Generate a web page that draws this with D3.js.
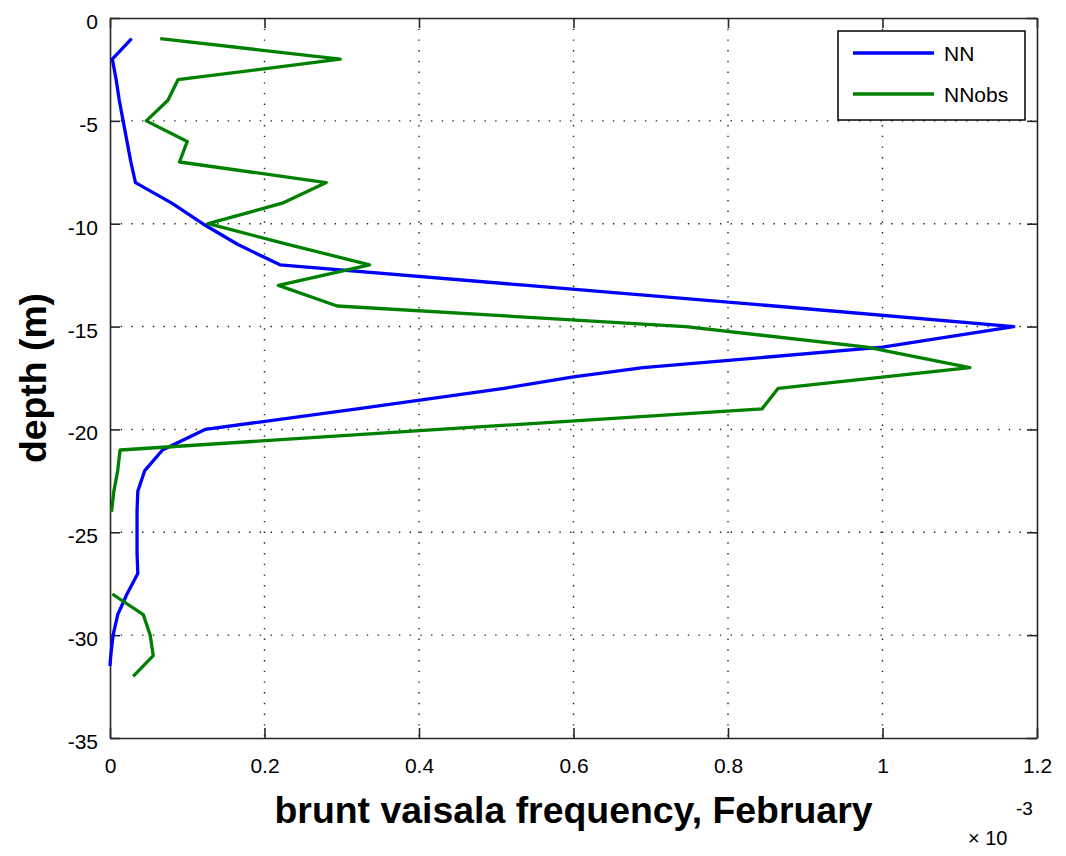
<!DOCTYPE html>
<html>
<head>
<meta charset="utf-8">
<script src="https://cdn.jsdelivr.net/npm/d3@7"></script>
<style>
  html, body { margin: 0; padding: 0; background: #fff; }
  svg { display: block; }
  text { font-family: "Liberation Sans", Arial, Helvetica, sans-serif; fill: #000; }
</style>
</head>
<body>
<svg id="chart" width="1066" height="856"></svg>
<script>
// Brunt-Vaisala frequency profiles (units of 1e-3), February
const nnDepth = [-1, -2, -3, -4, -5, -6, -7, -8, -9, -10, -11, -12, -13, -14, -15, -16, -17,
                 -17.45, -18, -19, -20, -21, -22, -23, -24, -25, -26, -27, -28, -29, -30, -31, -31.5];
const nnValue = [0.028, 0.003, 0.008, 0.012, 0.017, 0.022, 0.027, 0.033, 0.08, 0.12, 0.165, 0.22,
                 0.54, 0.86, 1.17, 1.0, 0.69, 0.6, 0.51, 0.32, 0.123, 0.068, 0.045, 0.036, 0.035,
                 0.035, 0.035, 0.036, 0.022, 0.01, 0.004, 0.001, 0.0];

const obsDepth = [-1, -2, -3, -4, -5, -6, -7, -8, -9, -10, -11, -12, -13, -14, -15, -16, -17,
                  -18, -19, -20, -21, -22, -23, -24, -25, -26, -27, -28, -29, -30, -31, -32];
const obsValue = [0.065, 0.298, 0.088, 0.075, 0.047, 0.1, 0.09, 0.28, 0.223, 0.127, 0.23, 0.336,
                  0.218, 0.294, 0.745, 0.98, 1.113, 0.865, 0.844, 0.426, 0.013, 0.01, 0.005, 0.002,
                  null, null, null, 0.003, 0.043, 0.052, 0.056, 0.03];

const xTicks = [0, 0.2, 0.4, 0.6, 0.8, 1, 1.2];
const yTicks = [0, -5, -10, -15, -20, -25, -30, -35];
const seriesNames = ["NN", "NNobs"];
const seriesColors = ["#0000ff", "#008000"];

const svg = d3.select("#chart");
const plotLeft = 110, plotRight = 1037, plotTop = 18, plotBottom = 738;

const x = d3.scaleLinear().domain([0, 1.2]).range([plotLeft, plotRight]);
const y = d3.scaleLinear().domain([-35, 0]).range([plotBottom, plotTop]);

// plain hyphen-minus tick labels
const plainFormat = d => String(d);

// dotted grid
const grid = svg.append("g").attr("stroke", "#222").attr("stroke-width", 1.4)
  .attr("stroke-dasharray", "1.4,9.3").attr("fill", "none");
xTicks.filter(t => t > 0 && t < 1.2).forEach(t => {
  grid.append("line").attr("x1", x(t)).attr("x2", x(t)).attr("y1", plotTop).attr("y2", plotBottom);
});
yTicks.filter(t => t < 0 && t > -35).forEach(t => {
  grid.append("line").attr("x1", plotLeft).attr("x2", plotRight).attr("y1", y(t)).attr("y2", y(t));
});

// axes with inward ticks on all four sides
const tickLen = 10;
const axisColor = "#262626";
const gx = svg.append("g").attr("transform", `translate(0,${plotBottom})`)
  .call(d3.axisBottom(x).tickValues(xTicks).tickSizeInner(-tickLen).tickSizeOuter(0)
    .tickPadding(20).tickFormat(plainFormat));
const gxt = svg.append("g").attr("transform", `translate(0,${plotTop})`)
  .call(d3.axisTop(x).tickValues(xTicks).tickSizeInner(-tickLen).tickSizeOuter(0).tickFormat(""));
const gy = svg.append("g").attr("transform", `translate(${plotLeft},0)`)
  .call(d3.axisLeft(y).tickValues(yTicks).tickSizeInner(-tickLen).tickSizeOuter(0)
    .tickPadding(12).tickFormat(plainFormat));
const gyr = svg.append("g").attr("transform", `translate(${plotRight},0)`)
  .call(d3.axisRight(y).tickValues(yTicks).tickSizeInner(-tickLen).tickSizeOuter(0).tickFormat(""));

[gx, gxt, gy, gyr].forEach(g => {
  g.selectAll("path").attr("stroke", axisColor).attr("stroke-width", 1.6);
  g.selectAll("line").attr("stroke", axisColor).attr("stroke-width", 1.6);
  g.selectAll("text").attr("font-size", 21).attr("font-family", null).attr("fill", "#000");
});
gx.selectAll("text").attr("dy", "0.71em");
gy.selectAll("text").attr("dy", "0.5em");

// series lines
const line = d3.line()
  .defined(d => d.v !== null)
  .x(d => x(d.v))
  .y(d => y(d.d));

const nnData = nnDepth.map((d, i) => ({ d, v: nnValue[i] }));
const obsData = obsDepth.map((d, i) => ({ d, v: obsValue[i] }));

svg.append("path").datum(nnData).attr("d", line)
  .attr("fill", "none").attr("stroke", seriesColors[0]).attr("stroke-width", 3.3)
  .attr("stroke-linejoin", "round");
svg.append("path").datum(obsData).attr("d", line)
  .attr("fill", "none").attr("stroke", seriesColors[1]).attr("stroke-width", 3.3)
  .attr("stroke-linejoin", "round");

// legend
const lg = svg.append("g");
lg.append("rect").attr("x", 838).attr("y", 31).attr("width", 187).attr("height", 89)
  .attr("fill", "#fff").attr("stroke", "#000").attr("stroke-width", 1.5);
seriesNames.forEach((name, i) => {
  const yy = 53 + i * 41;
  lg.append("line").attr("x1", 853).attr("x2", 934).attr("y1", yy).attr("y2", yy)
    .attr("stroke", seriesColors[i]).attr("stroke-width", 3.3);
  lg.append("text").attr("x", 944).attr("y", yy).attr("dy", "0.36em")
    .attr("font-size", 21).text(name);
});

// axis titles
svg.append("text").attr("x", (plotLeft + plotRight) / 2).attr("y", 823)
  .attr("text-anchor", "middle").attr("font-size", 36).attr("font-weight", "bold")
  .attr("textLength", 598).attr("lengthAdjust", "spacingAndGlyphs")
  .text("brunt vaisala frequency, February");

svg.append("text").attr("transform", `translate(46,${(plotTop + plotBottom) / 2}) rotate(-90)`)
  .attr("text-anchor", "middle").attr("font-size", 36).attr("font-weight", "bold")
  .attr("textLength", 170).attr("lengthAdjust", "spacingAndGlyphs")
  .text("depth (m)");

// exponent annotation
svg.append("text").attr("x", 968).attr("y", 845).attr("font-size", 20).text("\u00d7 10");
svg.append("text").attr("x", 1016).attr("y", 815).attr("font-size", 19).text("-3");
</script>
</body>
</html>
